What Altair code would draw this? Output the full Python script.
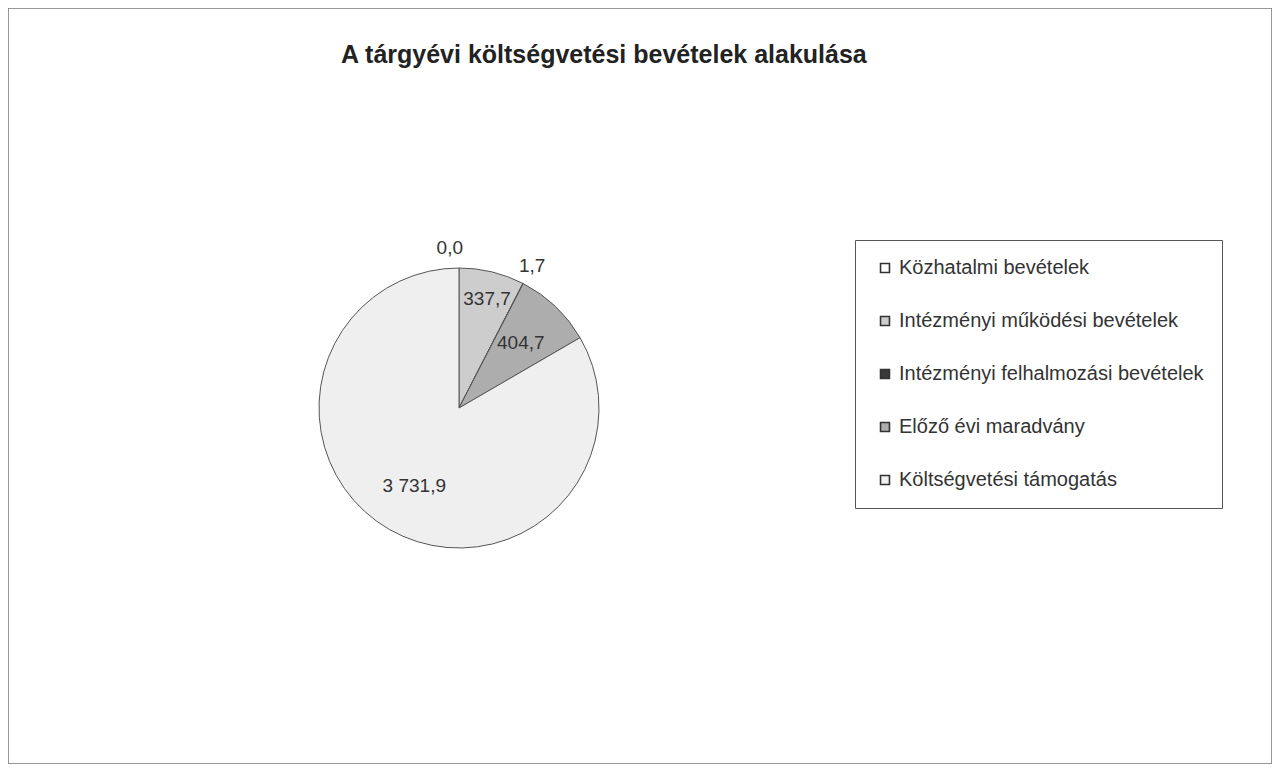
import altair as alt
import pandas as pd

categories = [
    "Közhatalmi bevételek",
    "Intézményi működési bevételek",
    "Intézményi felhalmozási bevételek",
    "Előző évi maradvány",
    "Költségvetési támogatás",
]
values = [0.0, 337.7, 1.7, 404.7, 3731.9]
labels = ["0,0", "337,7", "1,7", "404,7", "3 731,9"]
colors = ["#ffffff", "#cdcdcd", "#3a3a3a", "#adadad", "#efefef"]

df = pd.DataFrame({
    "kategoria": categories,
    "ertek": values,
    "cimke": labels,
    "sorrend": list(range(len(categories))),
})

R = 140
CX, CY = 451, 400
FONT = "Liberation Sans"

color = alt.Color(
    "kategoria:N",
    scale=alt.Scale(domain=categories, range=colors),
    sort=categories,
    legend=alt.Legend(
        title=None,
        orient="none",
        legendX=847,
        legendY=232,
        symbolType="square",
        symbolSize=80,
        symbolStrokeColor="#333333",
        symbolStrokeWidth=1.6,
        labelFont=FONT,
        labelFontSize=20,
        labelColor="#333333",
        labelLimit=400,
        rowPadding=33,
        padding=18,
        strokeColor="#555555",
        fillColor="#ffffff",
        symbolOffset=2,
        labelOffset=4,
    ),
)

base = (
    alt.Chart(df)
    .transform_joinaggregate(osszes="sum(ertek)")
    .transform_window(
        kum="sum(ertek)",
        sort=[alt.SortField("sorrend")],
        frame=[None, 0],
    )
    .transform_calculate(
        kezd="2 * PI * (datum.kum - datum.ertek) / datum.osszes",
        veg="2 * PI * datum.kum / datum.osszes",
        kozep="2 * PI * (datum.kum - datum.ertek / 2) / datum.osszes",
        rpos=(
            f"datum.ertek < 10 ? {R + 20} : "
            f"(datum.sorrend == 1 ? {R * 0.8} : {R * 0.64})"
        ),
    )
)

pie = base.mark_arc(radius=R, stroke="#555555", strokeWidth=1).encode(
    theta=alt.Theta("kezd:Q", scale=None),
    theta2="veg:Q",
    color=color,
    x=alt.value(CX),
    y=alt.value(CY),
)

text_enc = dict(
    theta=alt.Theta("kozep:Q", scale=None),
    text="cimke:N",
    radius=alt.Radius("rpos:Q", scale=None),
    x=alt.value(CX),
    y=alt.value(CY),
)

text_center = base.transform_filter(
    "datum.sorrend >= 2"
).mark_text(font=FONT, fontSize=19, color="#333333").encode(**text_enc)

text_right = base.transform_filter(
    "datum.sorrend == 0"
).mark_text(font=FONT, fontSize=19, color="#333333", align="right", dx=4).encode(**text_enc)

text_left = base.transform_filter(
    "datum.sorrend == 1"
).mark_text(font=FONT, fontSize=19, color="#333333", align="left", dx=-22).encode(**text_enc)

chart = alt.layer(pie, text_center, text_right, text_left).properties(
    width=1264,
    height=756,
    padding=0,
    title=alt.TitleParams(
        text="A tárgyévi költségvetési bevételek alakulása",
        anchor="start",
        frame="group",
        dx=333,
        offset=-60,
        font=FONT,
        fontSize=25,
        fontWeight="bold",
        color="#222222",
    ),
).configure_view(stroke="#777777", strokeWidth=1.5)

chart.save("out.html", embed_options={"renderer": "svg", "actions": False})
